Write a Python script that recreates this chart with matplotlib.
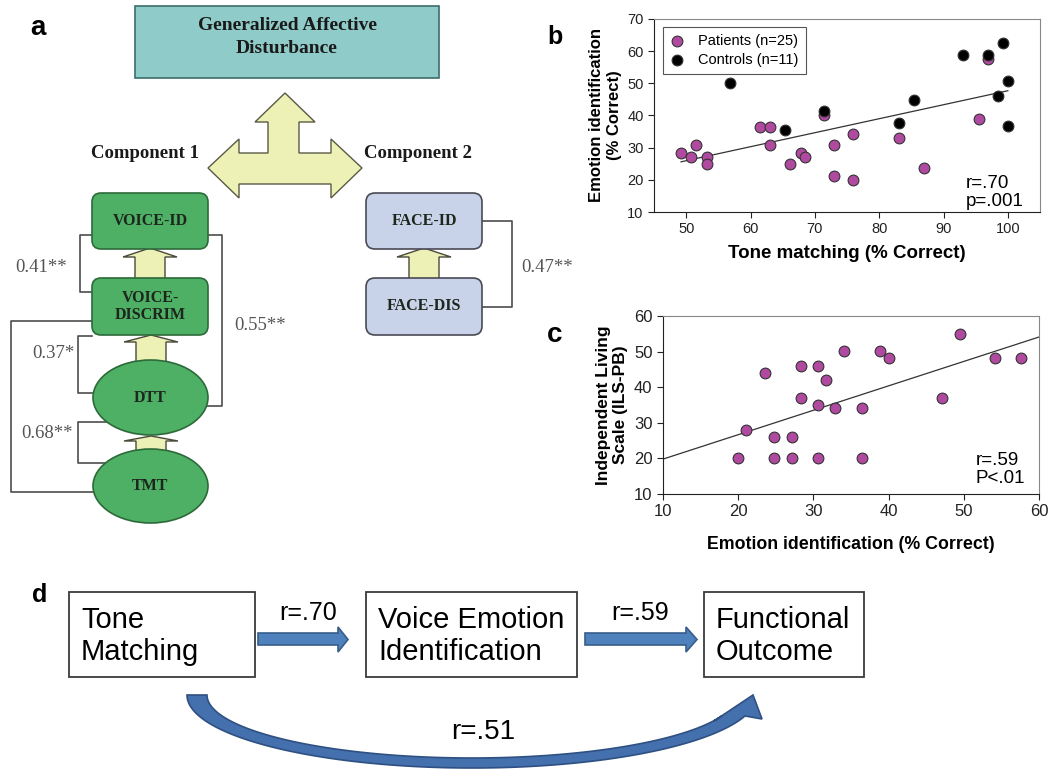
import numpy as np
import matplotlib
matplotlib.use('Agg')
import matplotlib.pyplot as plt
from matplotlib.patches import Rectangle, FancyBboxPatch, Ellipse, Polygon

plt.rcParams['font.family'] = 'Liberation Sans'
SERIF = 'Liberation Serif'

# --- panel b: tone matching vs emotion identification ---
tone_pat = [49.2, 50.8, 51.6, 53.2, 53.2, 61.5, 63.1, 63.1, 66.2, 67.8, 68.5,
            71.5, 73.0, 73.0, 76.0, 76.0, 83.1, 87.0, 95.5, 96.9]
emo_pat = [28.4, 27.2, 30.7, 27.2, 24.8, 36.5, 36.5, 30.7, 24.8, 28.3, 27.2,
           40.1, 30.7, 21.3, 34.3, 20.1, 33.1, 23.7, 38.9, 57.6]
tone_ctl = [56.8, 65.4, 71.5, 83.1, 85.4, 93.1, 96.9, 99.2, 100.0, 98.4, 100.0]
emo_ctl = [50.0, 35.4, 41.3, 37.8, 44.8, 58.9, 58.9, 62.5, 50.8, 46.1, 36.7]
fit_b_x = [49.2, 100.0]
fit_b_y = [25.6, 47.7]

# --- panel c: emotion identification vs ILS-PB ---
emo_c = [20.0, 21.1, 23.5, 24.7, 24.7, 27.1, 27.1, 28.3, 28.3, 30.6, 30.6, 30.6,
         31.7, 32.9, 34.1, 36.5, 36.5, 38.8, 40.0, 47.1, 49.5, 54.1, 57.6]
ils_c = [20.0, 28.0, 44.1, 26.0, 20.0, 26.0, 20.0, 46.0, 37.1, 46.0, 35.0, 20.0,
         42.1, 34.1, 50.1, 34.1, 20.0, 50.1, 48.1, 37.1, 55.0, 48.1, 48.1]
fit_c_x = [10, 60]
fit_c_y = [19.8, 54.1]

# --- correlations ---
corr_labels_a = ['0.41**', '0.55**', '0.37*', '0.68**', '0.47**']
corr_labels_d = ['r=.70', 'r=.59', 'r=.51']

PURPLE = '#b04aa0'

fig = plt.figure(figsize=(10.56, 7.7), dpi=100)

# overlay in pixel coordinates for the diagrams
ax0 = fig.add_axes([0, 0, 1, 1])
ax0.set_xlim(0, 1056)
ax0.set_ylim(770, 0)
ax0.axis('off')

# ---------- panel a ----------
ax0.text(38, 28, 'a', fontsize=20, fontweight='bold', ha='center', va='center')
ax0.add_patch(Rectangle((135, 6), 304, 72, fc='#8fcbc8', ec='#3b6e6c', lw=1.2))
ax0.text(287, 37, 'Generalized Affective\nDisturbance', family=SERIF, fontweight='bold',
         fontsize=14, ha='center', va='center', color='#1a1a1a', linespacing=1.45)

yellow = '#eef1b6'
tri = [(285, 93), (315, 122), (299, 122), (299, 153), (331, 153), (331, 139), (362, 168),
       (331, 198), (331, 184), (239, 184), (239, 198), (208, 168), (239, 139), (239, 153),
       (268, 153), (268, 122), (255, 122)]
ax0.add_patch(Polygon(tri, closed=True, fc=yellow, ec='#5a5a45', lw=1))
ax0.text(145, 153, 'Component 1', family=SERIF, fontweight='bold', fontsize=13.5,
         ha='center', va='center', color='#1a1a1a')
ax0.text(418, 153, 'Component 2', family=SERIF, fontweight='bold', fontsize=13.5,
         ha='center', va='center', color='#1a1a1a')


def up_arrow(cx, tip, base, bottom, hw=27, sw=15):
    pts = [(cx, tip), (cx + hw, base), (cx + sw, base), (cx + sw, bottom),
           (cx - sw, bottom), (cx - sw, base), (cx - hw, base)]
    ax0.add_patch(Polygon(pts, closed=True, fc=yellow, ec='#4a4a3a', lw=1, zorder=1))


up_arrow(150, 248, 257, 279)
up_arrow(151, 335, 342, 362)
up_arrow(151, 436, 441, 452)
up_arrow(424, 248, 257, 279)

green, green_ec = '#4eb065', '#2d6a3a'
blue, blue_ec = '#c8d3ea', '#4a4a55'
box_style = 'round,pad=0,rounding_size=9'
for (x, y, w, h, fc, ec, label) in [
        (92, 193, 116, 56, green, green_ec, 'VOICE-ID'),
        (92, 278, 116, 57, green, green_ec, 'VOICE-\nDISCRIM'),
        (366, 193, 116, 56, blue, blue_ec, 'FACE-ID'),
        (366, 278, 116, 57, blue, blue_ec, 'FACE-DIS')]:
    ax0.add_patch(FancyBboxPatch((x, y), w, h, boxstyle=box_style, fc=fc, ec=ec, lw=1.2, zorder=2))
    ax0.text(x + w / 2, y + h / 2, label, family=SERIF, fontweight='bold', fontsize=11.5,
             ha='center', va='center', color='#1c261c', linespacing=1.15, zorder=3)

for (cy, h, label) in [(397.5, 75, 'DTT'), (486, 74, 'TMT')]:
    ax0.add_patch(Ellipse((150.5, cy), 115, h, fc=green, ec=green_ec, lw=1.2, zorder=2))
    ax0.text(150.5, cy, label, family=SERIF, fontweight='bold', fontsize=11.5,
             ha='center', va='center', color='#1c261c', zorder=3)

line_c = '#4d4d4d'
brackets = [
    [(92, 235), (80, 235), (80, 292), (92, 292)],
    [(208, 235), (222, 235), (222, 406), (206, 406)],
    [(92, 336), (78, 336), (78, 393), (94, 393)],
    [(106, 422), (78, 422), (78, 463), (106, 463)],
    [(92, 321), (11, 321), (11, 492), (94, 492)],
    [(482, 221), (512, 221), (512, 307), (482, 307)],
]
for b in brackets:
    xs, ys = zip(*b)
    ax0.plot(xs, ys, color=line_c, lw=1.2, zorder=1.5)

label_pos = [(41, 267), (260, 325), (53, 354), (47, 434), (547, 267)]
for lab, (x, y) in zip(corr_labels_a, label_pos):
    ax0.text(x, y, lab, family=SERIF, fontsize=13.5, color='#555555', ha='center', va='center')

# ---------- panel d ----------
ax0.text(40, 595, 'd', fontsize=18, fontweight='bold', ha='center', va='center')
for (x, w, label) in [(69, 186, 'Tone\nMatching'), (366, 211, 'Voice Emotion\nIdentification'),
                      (704, 160, 'Functional\nOutcome')]:
    ax0.add_patch(Rectangle((x, 592), w, 85, fc='white', ec='#3a3a3a', lw=1.3))
    ax0.text(x + 12, 636, label, fontsize=21, ha='left', va='center', linespacing=1.15)

arrow_fc, arrow_ec = '#4f81bd', '#385d8a'
for (x0, xb, xt) in [(258, 338, 348), (585, 686, 697)]:
    pts = [(x0, 633), (xb, 633), (xb, 627), (xt, 639.5), (xb, 652), (xb, 645), (x0, 645)]
    ax0.add_patch(Polygon(pts, closed=True, fc=arrow_fc, ec=arrow_ec, lw=1.2))

ax0.text(308, 613, corr_labels_d[0], fontsize=18, ha='center', va='center')
ax0.text(640, 613, corr_labels_d[1], fontsize=18, ha='center', va='center')
ax0.text(483, 732, corr_labels_d[2], fontsize=20, ha='center', va='center')

# curved arrow from Tone Matching to Functional Outcome
cx, cy0 = 472, 695
ao, bo = 285, 73
ai, bi = 265, 63
th_o_end = np.arccos((745 - cx) / ao)
th_i_end = np.arccos((722 - cx) / ai)
th_o = np.linspace(np.pi, th_o_end, 120)
th_i = np.linspace(th_i_end, np.pi, 120)
outer = np.column_stack([cx + ao * np.cos(th_o), cy0 + bo * np.sin(th_o)])
inner = np.column_stack([cx + ai * np.cos(th_i), cy0 + bi * np.sin(th_i)])
head = np.array([(762, 719), (753, 695), (714, 721)])
curve = np.vstack([outer, head, inner])
ax0.add_patch(Polygon(curve, closed=True, fc='#4470ae', ec='#2f5082', lw=1.2))

# ---------- panel b ----------
def style_axes(ax, fs):
    for s in ['left', 'bottom']:
        ax.spines[s].set_color('#222222')
        ax.spines[s].set_linewidth(0.8)
    for s in ['top', 'right']:
        ax.spines[s].set_color('#888888')
        ax.spines[s].set_linewidth(0.8)
    ax.tick_params(direction='out', length=4, width=0.8, colors='#222222', labelsize=fs)


axb = fig.add_axes([654 / 1056, 1 - 212 / 770, 386 / 1056, 193 / 770])
axb.plot(fit_b_x, fit_b_y, color='#333333', lw=0.9, zorder=1)
axb.scatter(tone_pat, emo_pat, s=60, c=PURPLE, edgecolors='#333333', linewidths=0.8,
            zorder=2, label='Patients (n=25)')
axb.scatter(tone_ctl, emo_ctl, s=60, c='black', edgecolors='#333333', linewidths=0.8,
            zorder=3, label='Controls (n=11)')
axb.set_xlim(45, 105)
axb.set_ylim(10, 70)
axb.set_xticks(range(50, 101, 10))
axb.set_yticks(range(10, 71, 10))
style_axes(axb, 10.5)
axb.set_xlabel('Tone matching (% Correct)', fontsize=13.5, fontweight='bold', labelpad=6)
axb.set_ylabel('Emotion identification\n(% Correct)', fontsize=12, fontweight='bold', labelpad=4)
leg = axb.legend(loc='upper left', bbox_to_anchor=(0.023, 0.959), borderaxespad=0,
                 fontsize=10.5, frameon=True, fancybox=False, edgecolor='#555555',
                 framealpha=1, handlelength=1.0, handletextpad=0.9, borderpad=0.5,
                 labelspacing=0.3)
leg.get_frame().set_linewidth(0.8)
axb.text(0.808, 0.01, 'r=.70\np=.001', transform=axb.transAxes, fontsize=13.5,
         ha='left', va='bottom', linespacing=1.05)
fig.text(555 / 1056, 1 - 37 / 770, 'b', fontsize=18, fontweight='bold', ha='center', va='center')

# ---------- panel c ----------
axc = fig.add_axes([663 / 1056, 1 - 494 / 770, 376 / 1056, 178 / 770])
axc.plot(fit_c_x, fit_c_y, color='#333333', lw=0.9, zorder=1)
axc.scatter(emo_c, ils_c, s=60, c=PURPLE, edgecolors='#333333', linewidths=0.8, zorder=2)
axc.set_xlim(10, 60)
axc.set_ylim(10, 60)
axc.set_xticks(range(10, 61, 10))
axc.set_yticks(range(10, 61, 10))
style_axes(axc, 12)
axc.set_xlabel('Emotion identification (% Correct)', fontsize=12.8, fontweight='bold', labelpad=12)
axc.set_ylabel('Independent Living\nScale (ILS-PB)', fontsize=12.5, fontweight='bold', labelpad=4)
axc.text(0.832, 0.04, 'r=.59\nP<.01', transform=axc.transAxes, fontsize=13.5,
         ha='left', va='bottom', linespacing=1.05)
fig.text(555 / 1056, 1 - 335 / 770, 'c', fontsize=20, fontweight='bold', ha='center', va='center')

fig.savefig('out.png', dpi=100)
